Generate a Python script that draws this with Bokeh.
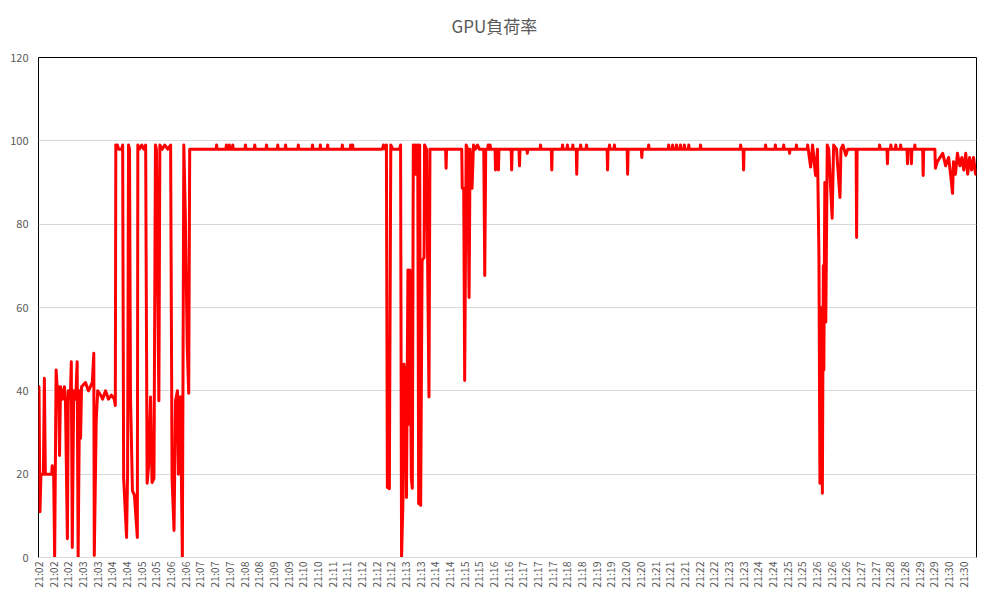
import math
from bokeh.plotting import figure
from bokeh.models import FixedTicker, Range1d, Title
from bokeh.embed import file_html
from bokeh.resources import INLINE

TITLE = "GPU負荷率"

# x tick labels (one every 30 samples)
tick_labels = [
    "21:02", "21:02", "21:02", "21:03", "21:03", "21:04", "21:04", "21:05", "21:05", "21:06",
    "21:06", "21:07", "21:07", "21:07", "21:08", "21:08", "21:09", "21:09", "21:10", "21:10",
    "21:11", "21:11", "21:12", "21:12", "21:12", "21:13", "21:13", "21:14", "21:14", "21:15",
    "21:15", "21:16", "21:16", "21:17", "21:17", "21:17", "21:18", "21:18", "21:19", "21:19",
    "21:20", "21:20", "21:21", "21:21", "21:21", "21:22", "21:22", "21:23", "21:23", "21:24",
    "21:24", "21:25", "21:25", "21:26", "21:26", "21:26", "21:27", "21:27", "21:28", "21:28",
    "21:29", "21:29", "21:30", "21:30",
]
label_every = 30
n_samples = 1917
y_ticks = [0, 20, 40, 60, 80, 100, 120]

# GPU load (%) by sample index
seg_a_idx = [1, 3, 5, 10, 12, 14, 27, 28, 31, 33, 36, 39, 41, 43, 45, 49, 53, 55, 59, 61, 65, 67, 69, 72,
             76, 79, 81, 84, 86, 88, 96, 102, 110, 113, 114, 118, 121, 127, 131, 137, 143, 149, 155, 157, 158]
seg_a_val = [41, 11, 20, 20, 43, 20, 20, 22, 20, 0, 45, 39, 41, 24.5, 41, 38, 41, 38, 4.5, 40, 38, 47, 2.4, 40,
             38, 47, 0, 40, 28.6, 41, 42, 40, 42, 49, 0.5, 33, 40, 39, 38, 40, 38, 39, 38, 36.5, 99]

seg_b_idx = [159, 161, 164, 170, 172, 174, 180, 182, 184, 186, 188, 192, 196, 202, 203, 206, 211, 215, 219,
             222, 225, 229, 232, 236, 239, 241, 246, 248, 253, 258, 264, 270, 273, 277, 280, 284, 286, 290,
             294, 297, 300, 304, 307, 309]
seg_b_val = [98, 99, 98, 98, 99, 19, 4.8, 20, 99, 98, 38.5, 16, 15, 4.8, 99, 98, 99, 98, 99,
             17.8, 22, 38.5, 18, 19, 99, 98, 37.6, 99, 98, 99, 98, 99, 18.8, 6.5, 37.6, 40, 20, 38.6,
             0, 99, 82.6, 50.4, 39.4, 98]

seg_c_idx = [363, 364, 365, 383, 384, 385, 389, 390, 391, 396, 397, 398, 422, 423, 424, 441, 442, 443,
             465, 466, 467, 488, 489, 490, 504, 505, 506, 530, 531, 532, 559, 560, 561, 575, 576, 577,
             590, 591, 592, 620, 621, 622, 637, 638, 639, 641, 642, 643]
seg_c_val = [98, 99, 98, 98, 99, 98, 98, 99, 98, 98, 99, 98, 98, 99, 98, 98, 99, 98,
             98, 99, 98, 98, 99, 98, 98, 99, 98, 98, 99, 98, 98, 99, 98, 98, 99, 98,
             98, 99, 98, 98, 99, 98, 98, 99, 98, 98, 99, 98]

seg_d_idx = [703, 705, 709, 711, 713, 715, 717, 720, 724, 738, 740, 742, 745, 747, 749, 750, 752, 755, 757,
             759, 762, 764, 766, 769, 771, 773, 775, 777, 779, 781, 784, 788, 789, 793, 798, 800, 832, 833,
             834, 865, 866, 869, 871, 874, 877, 880, 882, 886, 889, 893, 897, 901]
seg_d_val = [98, 99, 98, 99, 16.8, 18, 16.5, 99, 98, 98, 99, 0, 14.4, 46.4, 38.5, 45.6, 14.4, 69, 32,
             69, 19, 16.6, 99, 92, 99, 92, 99, 12.9, 99, 12.5, 71.3, 72, 99, 98, 38.5, 98, 98, 93.4,
             98, 98, 88.6, 88.6, 42.5, 99, 98, 62.4, 98, 88.6, 99, 98, 99, 98]

seg_e_idx = [910, 912, 914, 918, 919, 920, 922, 923, 924, 933, 934, 935, 939, 940, 941, 966, 967, 968,
             982, 983, 984, 998, 999, 1000, 1025, 1026, 1027, 1048, 1049, 1050, 1070, 1071, 1072, 1080,
             1081, 1082, 1091, 1092, 1093, 1099, 1100, 1101, 1107, 1108, 1109, 1119, 1120, 1121, 1162,
             1163, 1164, 1166, 1167, 1168, 1176, 1177, 1178, 1203, 1204, 1205, 1232, 1233, 1234, 1246,
             1247, 1248, 1287, 1288, 1289, 1295, 1296, 1297, 1303, 1304, 1305, 1311, 1312, 1313, 1319,
             1320, 1321, 1328, 1329, 1330, 1352, 1353, 1354, 1434, 1435, 1436, 1440, 1441, 1442, 1485,
             1486, 1487, 1505, 1506, 1507, 1522, 1523, 1524, 1534, 1535, 1536]
seg_e_val = [98, 67.7, 98, 98, 99, 98, 98, 99, 98, 98, 93, 98, 98, 93, 98, 98, 93, 98,
             98, 94, 98, 98, 97, 98, 98, 99, 98, 98, 93, 98, 98, 99, 98, 98,
             99, 98, 98, 99, 98, 98, 92, 98, 98, 99, 98, 98, 99, 98, 98,
             93, 98, 98, 99, 98, 98, 99, 98, 98, 92, 98, 98, 96, 98, 98,
             99, 98, 98, 99, 98, 98, 99, 98, 98, 99, 98, 98, 99, 98, 98,
             99, 98, 98, 99, 98, 98, 99, 98, 98, 99, 98, 98, 93, 98, 98,
             99, 98, 98, 99, 98, 98, 99, 98, 98, 97, 98]

seg_f_idx = [1548, 1549, 1550, 1571, 1572, 1578, 1582, 1588, 1592, 1595, 1597, 1599, 1602, 1604, 1605,
             1607, 1609, 1612, 1615, 1622, 1625, 1631, 1633, 1638, 1640, 1644, 1650, 1654, 1671, 1672,
             1673, 1718, 1719, 1720, 1734, 1735, 1736, 1741, 1742, 1743, 1751, 1752, 1753, 1761, 1762,
             1763, 1775, 1776, 1777, 1783, 1784, 1785, 1790, 1791, 1792, 1807, 1808, 1809, 1832, 1833,
             1837, 1848, 1854, 1860, 1864, 1868, 1870, 1874, 1878, 1883, 1887, 1891, 1895, 1899, 1903,
             1907, 1911, 1915, 1917]
seg_f_val = [98, 99, 98, 98, 99, 93.7, 99, 91.7, 98, 72.4, 17.8, 60, 15.4, 70, 45,
             90, 56.5, 99, 98, 81.4, 99, 98, 94.5, 86.4, 98, 99, 96.5, 98, 98, 76.8,
             98, 98, 99, 98, 98, 94.5, 98, 98, 99, 98, 98, 99, 98, 98, 99,
             98, 98, 94.5, 98, 98, 94.5, 98, 98, 99, 98, 98, 91.7, 98, 98, 93.4,
             95, 97, 94, 96, 92, 87.4, 95, 92, 97, 94, 96, 93, 97, 92, 96,
             93, 96, 92, 92]

idx = [0] + seg_a_idx + seg_b_idx + seg_c_idx + seg_d_idx + seg_e_idx + seg_f_idx
val = [41] + seg_a_val + seg_b_val + seg_c_val + seg_d_val + seg_e_val + seg_f_val

FONT = "Noto Sans CJK JP"
GRAY = "#595959"

p = figure(frame_width=938, frame_height=500,
           min_border_left=38, min_border_right=7, min_border_top=57, min_border_bottom=37,
           x_range=Range1d(0, n_samples), y_range=Range1d(0, 120),
           output_backend="svg", toolbar_location=None, title=None,
           background_fill_color="white", border_fill_color="white")

# spacer between frame and title (closest to the frame)
spacer = Title(text=" ", text_font_size="1px", standoff=15)
p.add_layout(spacer, "above")
t = Title(text=TITLE, align="left", offset=413, text_font=FONT, text_font_size="17px",
          text_font_style="normal", text_color=GRAY, standoff=4)
p.add_layout(t, "above")

p.line(idx, val, line_color="#ff0000", line_width=3, line_join="round")

p.outline_line_color = "black"
p.outline_line_width = 1

p.xgrid.grid_line_color = None
p.ygrid.grid_line_color = "#d9d9d9"
p.ygrid.grid_line_width = 1

p.yaxis.ticker = FixedTicker(ticks=y_ticks)
p.yaxis.axis_line_color = None
p.yaxis.major_tick_line_color = None
p.yaxis.major_tick_out = 0
p.yaxis.major_tick_in = 0
p.yaxis.minor_tick_line_color = None
p.yaxis.major_label_standoff = 10
p.yaxis.major_label_text_font = FONT
p.yaxis.major_label_text_font_size = "11px"
p.yaxis.major_label_text_color = GRAY

xt = [i * label_every for i in range(len(tick_labels))]
p.xaxis.ticker = FixedTicker(ticks=xt)
p.xaxis.major_label_overrides = {x: lab for x, lab in zip(xt, tick_labels)}
p.xaxis.major_label_orientation = math.pi / 2
p.xaxis.axis_line_color = "#d9d9d9"
p.xaxis.major_tick_line_color = None
p.xaxis.major_tick_out = 0
p.xaxis.major_tick_in = 0
p.xaxis.minor_tick_line_color = None
p.xaxis.major_label_standoff = 4
p.xaxis.major_label_text_font = FONT
p.xaxis.major_label_text_font_size = "10.5px"
p.xaxis.major_label_text_color = GRAY

open("out.html", "w").write(file_html(p, INLINE))
